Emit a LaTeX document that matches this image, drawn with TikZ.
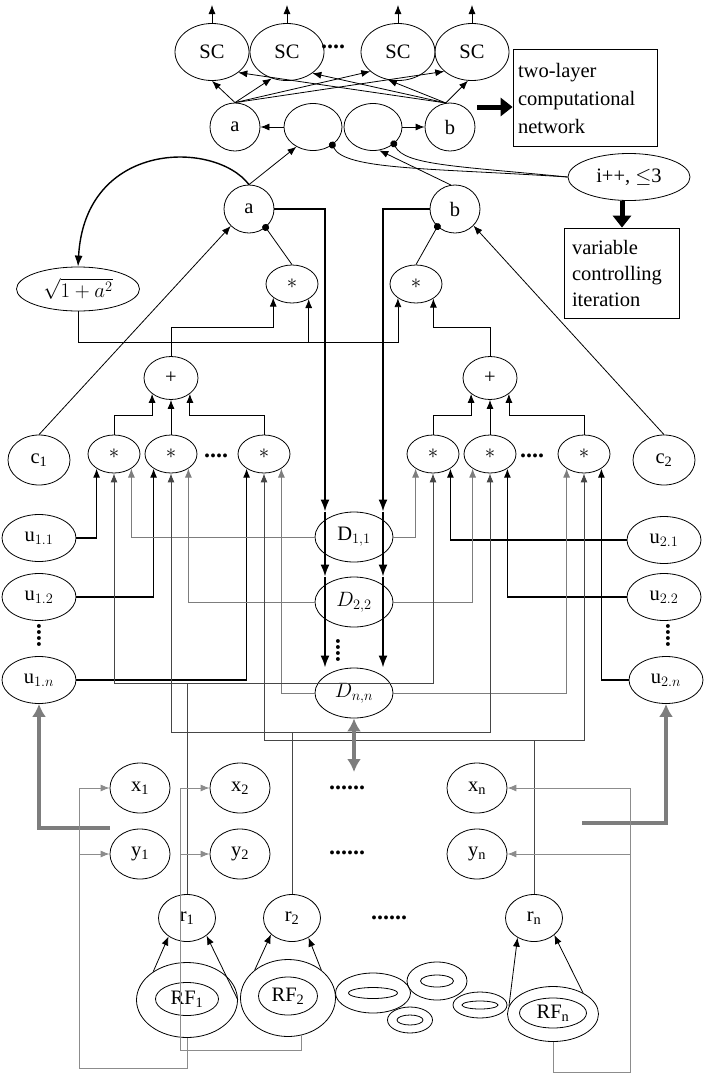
\documentclass[tikz,border=0pt]{standalone}
\usepackage{fontspec}
\setmainfont{Liberation Serif}
\usetikzlibrary{arrows.meta,shapes.geometric}
\definecolor{dgray}{RGB}{70,70,70}
\definecolor{mgray}{RGB}{125,125,125}
\definecolor{lgray}{RGB}{140,140,140}
\tikzstyle{sc}=[ellipse,draw,line width=0.8pt,inner sep=0pt,minimum width=74pt,minimum height=57pt]
\tikzstyle{var}=[ellipse,draw,line width=0.8pt,inner sep=0pt,minimum width=50pt,minimum height=48pt]
\tikzstyle{emp}=[ellipse,draw,line width=0.8pt,inner sep=0pt,minimum width=58pt,minimum height=47pt]
\tikzstyle{op}=[ellipse,draw,line width=0.8pt,inner sep=0pt,minimum width=52pt,minimum height=38pt]
\tikzstyle{cn}=[ellipse,draw,line width=0.8pt,inner sep=0pt,minimum width=62pt,minimum height=50pt]
\tikzstyle{un}=[ellipse,draw,line width=0.8pt,inner sep=0pt,minimum width=74pt,minimum height=47pt]
\tikzstyle{dn}=[ellipse,draw,line width=0.8pt,inner sep=0pt,minimum width=78pt,minimum height=50pt]
\tikzstyle{xy}=[ellipse,draw,line width=0.8pt,inner sep=0pt,minimum width=60pt,minimum height=50pt]
\tikzstyle{rr}=[ellipse,draw,line width=0.8pt,inner sep=0pt,minimum width=57pt,minimum height=47pt]
\tikzstyle{ring}=[ellipse,draw,line width=0.8pt,inner sep=0pt]
\tikzstyle{txtbox}=[rectangle,draw,line width=0.8pt,inner sep=0pt,align=left]
\tikzstyle{dotrow}=[font=\fontsize{24}{24}\selectfont\bfseries,inner sep=0pt]
\tikzstyle{ln}=[line width=0.8pt,-{Latex[length=9pt,width=7pt]}]
\tikzstyle{ul}=[line width=1.2pt,-{Latex[length=9pt,width=7pt]}]
\tikzstyle{gl}=[mgray,line width=0.8pt,-{Latex[length=9pt,width=7pt]}]
\tikzstyle{rl}=[dgray,line width=0.9pt,-{Latex[length=9pt,width=7pt]}]
\tikzstyle{fl}=[lgray,line width=0.9pt,-{Latex[length=9pt,width=7pt]}]
\tikzstyle{bk}=[line width=2pt,-{Latex[length=12pt,width=9pt]}]
\tikzstyle{tg}=[mgray,line width=3.5pt,-{Latex[length=13pt,width=14pt]}]
\tikzstyle{fat}=[line width=5pt,-{Triangle[length=12pt,width=18pt]}]
\tikzstyle{dotl}=[line width=0.8pt,{Circle[length=7pt]}-,shorten <=-3.5pt]

\begin{document}
\begin{tikzpicture}[x=1pt,y=-1pt,font=\fontsize{20.5}{25}\selectfont]
  \useasboundingbox (0,0) rectangle (708,1074);
  \coordinate (top) at (0,5);
  \coordinate (busP) at (0,327);
  \coordinate (busS) at (0,342);
  \coordinate (busQ) at (0,415);
  \coordinate (bus1) at (0,683);
  \coordinate (bus2) at (0,732);
  \coordinate (busn) at (0,740);
  \coordinate (colA) at (325,0);
  \coordinate (colB) at (383,0);
  \coordinate (netarr) at (477,107);
  \coordinate (tg1) at (110,828);
  \coordinate (tg2) at (582,823);
  \coordinate (dd) at (354,772);
  \coordinate (fb1) at (79,1068);
  \coordinate (fb2) at (180,1050);
  \coordinate (fbn) at (630,1072);

  % two-layer network
  \node [sc] (sc1) at (212,52) {SC};
  \node [sc] (sc2) at (287,52) {SC};
  \node [sc] (sc3) at (398,52) {SC};
  \node [sc] (sc4) at (472,52) {SC};
  \node [dotrow] (scdots) at (333,47) {....};
  \node [var] (atop) at (235,127) {a};
  \node [emp] (e1) at (313,127) {};
  \node [emp] (e2) at (373,127) {};
  \node [var] (btop) at (450,127) {b};
  \node [txtbox,minimum width=144pt,minimum height=97pt,text width=134pt,font=\fontsize{20.5}{28}\selectfont] (net) at (585,98) {two-layer\\computational\\network};
  \node [ellipse,draw,line width=0.8pt,inner sep=0pt,minimum width=122pt,minimum height=47pt] (ipp) at (629,177) {i++, $\leq$3};
  \node [txtbox,minimum width=115pt,minimum height=90pt,text width=100pt,font=\fontsize{20.5}{26}\selectfont] (ctl) at (622,273) {variable\\controlling\\iteration};

  % iteration layer
  \node [var] (amid) at (249,209) {a};
  \node [var] (bmid) at (455,209) {b};
  \node [ellipse,draw,line width=0.8pt,inner sep=0pt,minimum width=123pt,minimum height=44pt] (sq) at (78,289) {$\sqrt{1+a^2}$};
  \node [op] (mulL) at (292,284) {$\ast$};
  \node [op] (mulR) at (416,284) {$\ast$};
  \node [op,minimum width=54pt,minimum height=43pt] (plusL) at (171,378) {+};
  \node [op,minimum width=54pt,minimum height=43pt] (plusR) at (490,378) {+};
  \node [cn] (c1) at (39,460) {c\textsubscript{1}};
  \node [cn] (c2) at (664,460) {c\textsubscript{2}};
  \node [op] (mL1) at (114,454) {$\ast$};
  \node [op] (mL2) at (171,454) {$\ast$};
  \node [dotrow] (ldots) at (216,456) {....};
  \node [op] (mL3) at (264,454) {$\ast$};
  \node [op] (mR1) at (433,454) {$\ast$};
  \node [op] (mR2) at (490,454) {$\ast$};
  \node [dotrow] (mrdots) at (532,456) {....};
  \node [op] (mR3) at (584,454) {$\ast$};

  % u and D
  \node [un] (u11) at (39,538) {u$_{1.1}$};
  \node [un] (u12) at (39,597) {u$_{1.2}$};
  \node [dotrow,rotate=90] (uldots) at (39,635) {....};
  \node [un] (u1n) at (39,680) {u$_{1.n}$};
  \node [un] (u21) at (664,540) {u$_{2.1}$};
  \node [un] (u22) at (664,597) {u$_{2.2}$};
  \node [dotrow,rotate=90] (urdots) at (668,635) {....};
  \node [un] (u2n) at (666,680) {u$_{2.n}$};
  \node [dn] (D11) at (354,537) {D$_{1,1}$};
  \node [dn] (D22) at (354,602) {$D_{2,2}$};
  \node [dotrow,rotate=90] (ddots) at (338,650) {....};
  \node [dn] (Dnn) at (354,693) {$D_{n,n}$};

  % receptive fields
  \node [xy] (x1) at (140,788) {x\textsubscript{1}};
  \node [xy] (x2) at (240,788) {x\textsubscript{2}};
  \node [dotrow] (xdots) at (347,788) {......};
  \node [xy] (xn) at (477,788) {x\textsubscript{n}};
  \node [xy] (y1) at (140,854) {y\textsubscript{1}};
  \node [xy] (y2) at (240,854) {y\textsubscript{2}};
  \node [dotrow] (ydots) at (347,853) {......};
  \node [xy] (yn) at (477,854) {y\textsubscript{n}};
  \node [rr] (r1) at (187,918) {r\textsubscript{1}};
  \node [rr] (r2) at (292,918) {r\textsubscript{2}};
  \node [dotrow] (rdots) at (389,918) {......};
  \node [rr] (rn) at (534,918) {r\textsubscript{n}};
  \node [ring,minimum width=101pt,minimum height=75pt] (rf1) at (187,1000) {};
  \node [ring,minimum width=63pt,minimum height=33pt] (rf1t) at (187,999) {RF\textsubscript{1}};
  \node [ring,minimum width=95pt,minimum height=77pt] (rf2) at (288,998) {};
  \node [ring,minimum width=59pt,minimum height=38pt] (rf2t) at (288,996) {RF\textsubscript{2}};
  \node [ring,minimum width=91pt,minimum height=55pt] (rfn) at (553,1014) {};
  \node [ring,minimum width=67pt,minimum height=30pt] (rfnt) at (553,1013) {RF\textsubscript{n}};
  \node [ring,minimum width=75pt,minimum height=40pt] (rgA) at (373,993) {};
  \node [ring,minimum width=49pt,minimum height=11pt] (rgAi) at (373,993) {};
  \node [ring,minimum width=60pt,minimum height=38pt] (rgB) at (437,981) {};
  \node [ring,minimum width=33pt,minimum height=12pt] (rgBi) at (437,981) {};
  \node [ring,minimum width=45pt,minimum height=26pt] (rgC) at (410,1020) {};
  \node [ring,minimum width=26pt,minimum height=10pt] (rgCi) at (410,1020) {};
  \node [ring,minimum width=54pt,minimum height=26pt] (rgD) at (480,1005) {};
  \node [ring,minimum width=36pt,minimum height=8pt] (rgDi) at (480,1005) {};

  % top connections
  \foreach \s in {sc1,sc2,sc3,sc4}
    \draw [ln] (\s.north) -- (\s.north |- top);
  \draw [ln] (atop.north) -- (sc1.south);
  \draw [ln] (atop.north) -- (sc2.240);
  \draw [ln] (atop.north) -- (sc3.215);
  \draw [ln] (atop.north) -- (sc4.215);
  \draw [ln] (btop.100) -- (sc1.-38);
  \draw [ln] (btop.100) -- (sc2.-40);
  \draw [ln] (btop.100) -- (sc3.250);
  \draw [ln] (btop.100) -- (sc4.262);
  \draw [ln] (e1) -- (atop);
  \draw [ln] (e2) -- (btop);
  \draw [fat] (netarr) -- (net.west |- netarr);
  \draw [fat] (ctl.north |- ipp.south) -- (ctl.north);
  \draw [dotl] (e1.-43) .. controls (345,170) and (430,168) .. (ipp.west);
  \draw [dotl] (e2.-39) .. controls (405,165) and (455,166) .. (ipp.west);
  \draw [ln] (amid.north) -- (e1.230);
  \draw [ln] (bmid.100) -- (e2.285);

  % a, b update
  \draw [line width=1.4pt,-{Latex[length=11pt,width=8pt]}] (amid.north) .. controls (215,140) and (85,140) .. (sq.north);
  \draw [dotl] (amid.-48) -- (mulL.north);
  \draw [dotl] (bmid.225) -- (mulR.north);
  \draw [ln] (c1.north) -- (amid.223);
  \draw [ln] (c2.north) -- (bmid.-42);
  \draw [ln] (sq.south) |- (mulR.218 |- busS) -- (mulR.218);
  \draw [ln] (mulL.318 |- busS) -- (mulL.318);
  \draw [ln] (plusL.north) |- (mulL.216 |- busP) -- (mulL.216);
  \draw [ln] (plusR.north) |- (mulR.320 |- busP) -- (mulR.320);
  \draw [ln] (mL1.north) |- (plusL.220 |- busQ) -- (plusL.220);
  \draw [ln] (mL2) -- (plusL);
  \draw [ln] (mL3.north) |- (plusL.320 |- busQ) -- (plusL.320);
  \draw [ln] (mR1.north) |- (plusR.220 |- busQ) -- (plusR.220);
  \draw [ln] (mR2) -- (plusR);
  \draw [ln] (mR3.north) |- (plusR.320 |- busQ) -- (plusR.320);

  % D column
  \draw [bk] (amid.east) -| (colA |- D11.north);
  \draw [bk] (colA |- D11.north) -- (colA |- D22.north);
  \draw [bk] (colA |- D22.north) -- (colA |- Dnn.north);
  \draw [bk] (bmid.west) -| (colB |- D11.north);
  \draw [bk] (colB |- D11.north) -- (colB |- D22.north);
  \draw [bk] (colB |- D22.north) -- (colB |- Dnn.north);

  % inputs of the products
  \draw [ul] (u11.east) -| (mL1.220);
  \draw [ul] (u12.east) -| (mL2.220);
  \draw [ul] (u1n.east) -| (mL3.220);
  \draw [ul] (u21.west) -| (mR1.320);
  \draw [ul] (u22.west) -| (mR2.320);
  \draw [ul] (u2n.west) -| (mR3.320);
  \draw [gl] (D11.west) -| (mL1.320);
  \draw [gl] (D22.west) -| (mL2.320);
  \draw [gl] (Dnn.west) -| (mL3.320);
  \draw [gl] (D11.east) -| (mR1.220);
  \draw [gl] (D22.east) -| (mR2.220);
  \draw [gl] (Dnn.east) -| (mR3.220);
  \draw [rl] (r1.north) |- (mL1.south |- bus1) -- (mL1.south);
  \draw [rl] (r1.north |- bus1) -| (mR1.south);
  \draw [rl] (r2.north) |- (mL2.south |- bus2) -- (mL2.south);
  \draw [rl] (r2.north |- bus2) -| (mR2.south);
  \draw [rl] (rn.north) |- (mL3.south |- busn) -- (mL3.south);
  \draw [rl] (rn.north |- busn) -| (mR3.south);

  % thick gray arrows
  \draw [tg] (tg1) -| (u1n.south);
  \draw [tg] (tg2) -| (u2n.south);
  \draw [tg,{Latex[length=13pt,width=14pt]}-{Latex[length=13pt,width=14pt]}] (Dnn.south) -- (dd);

  % receptive fields to r and feedback
  \draw [ln] (rf1.140) -- (r1.225);
  \draw [ln] (rf1.east) -- (r1.-42);
  \draw [ln] (rf2.140) -- (r2.218);
  \draw [ln] (rf2.40) -- (r2.-50);
  \draw [ln] (rfn.170) -- (rn.230);
  \draw [ln] (rfn.35) -- (rn.-40);
  \draw [fl] (rf1.south) |- (fb1) |- (x1.west);
  \draw [fl] (fb1 |- y1.west) -- (y1.west);
  \draw [fl] (rf2.-70) |- (fb2) |- (x2.west);
  \draw [fl] (fb2 |- y2.west) -- (y2.west);
  \draw [fl] (rfn.south) |- (fbn) |- (xn.east);
  \draw [fl] (fbn |- yn.east) -- (yn.east);
\end{tikzpicture}
\end{document}
